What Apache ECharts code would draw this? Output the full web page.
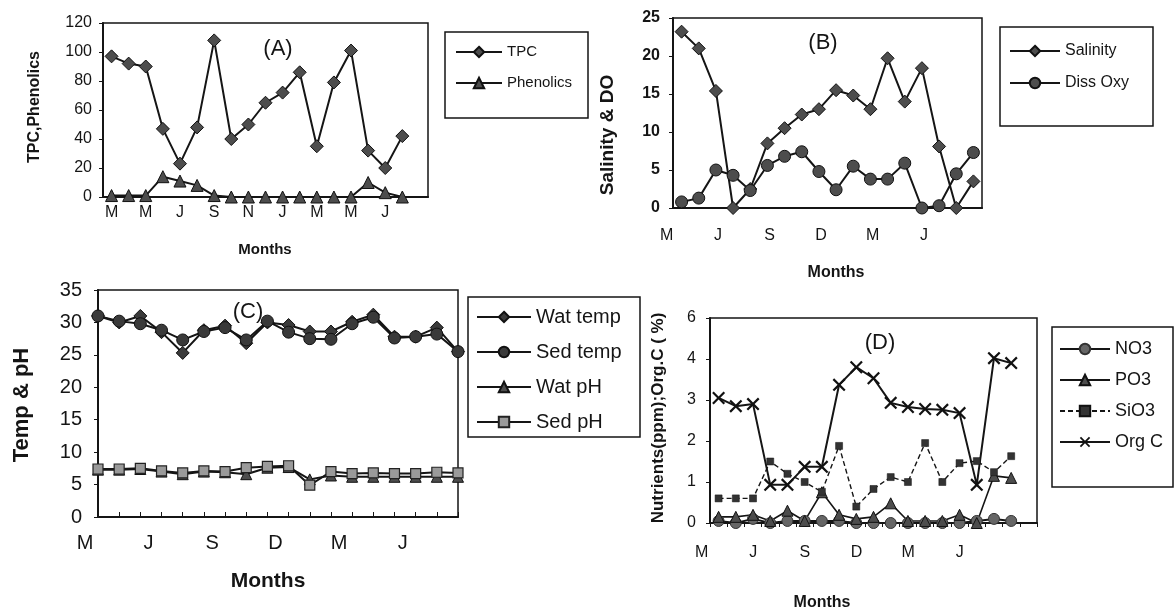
<!DOCTYPE html>
<html><head><meta charset="utf-8">
<script src="https://cdn.jsdelivr.net/npm/echarts/dist/echarts.min.js"></script>
<style>html,body{margin:0;padding:0;background:#fff}#c{width:1175px;height:612px}</style>
</head><body><div id="c"></div>
<script>
// ---------- DATA ----------
const monthsA = ['Mar','Apr','May','Jun','Jul','Aug','Sep','Oct','Nov','Dec','Jan','Feb','Mar','Apr','May','Jun','Jul','Aug',''];
const monthsB = ['Mar','Apr','May','Jun','Jul','Aug','Sep','Oct','Nov','Dec','Jan','Feb','Mar','Apr','May','Jun','Jul','Aug'];
const monthsC = ['Mar','Apr','May','Jun','Jul','Aug','Sep','Oct','Nov','Dec','Jan','Feb','Mar','Apr','May','Jun','Jul','Aug'];
const monthsD = ['Mar','Apr','May','Jun','Jul','Aug','Sep','Oct','Nov','Dec','Jan','Feb','Mar','Apr','May','Jun','Jul','Aug',''];

const tpc       = [97, 92, 90, 47, 23, 48, 108, 40, 50, 65, 72, 86, 35, 79, 101, 32, 20, 42];
const phenolics = [1, 1, 1, 14, 11, 8, 1, 0, 0, 0, 0, 0, 0, 0, 0, 10, 3, 0];

const salinity = [23.2, 21, 15.4, 0, 2.5, 8.5, 10.5, 12.3, 13, 15.5, 14.8, 13, 19.7, 14, 18.4, 8.1, 0, 3.5];
const dissOxy  = [0.8, 1.3, 5, 4.3, 2.3, 5.6, 6.8, 7.4, 4.8, 2.4, 5.5, 3.8, 3.8, 5.9, 0, 0.3, 4.5, 7.3];

const watTemp = [31, 30, 31, 28.5, 25.3, 28.8, 29.5, 26.8, 30, 29.6, 28.6, 28.6, 30.1, 31.2, 27.8, 27.8, 29.2, 25.5];
const sedTemp = [31, 30.2, 29.8, 28.8, 27.3, 28.6, 29.2, 27.3, 30.2, 28.5, 27.5, 27.4, 29.8, 30.8, 27.6, 27.8, 28.2, 25.5];
const watPH   = [7.3, 7.3, 7.4, 7.0, 6.6, 7.0, 6.9, 6.6, 7.6, 7.7, 5.8, 6.4, 6.2, 6.2, 6.2, 6.2, 6.2, 6.2];
const sedPH   = [7.4, 7.4, 7.5, 7.1, 6.8, 7.1, 7.0, 7.6, 7.8, 7.9, 4.9, 7.0, 6.7, 6.8, 6.7, 6.7, 6.9, 6.8];

const no3  = [0.05, 0, 0.1, 0, 0.05, 0.05, 0.05, 0.05, 0, 0, 0, 0, 0, 0, 0, 0.05, 0.1, 0.05];
const po3  = [0.15, 0.15, 0.2, 0.05, 0.3, 0.05, 0.75, 0.2, 0.1, 0.15, 0.48, 0.05, 0.05, 0.05, 0.2, 0, 1.15, 1.1];
const sio3 = [0.6, 0.6, 0.6, 1.5, 1.2, 1.0, 0.76, 1.88, 0.4, 0.83, 1.12, 1.0, 1.95, 1.0, 1.46, 1.51, 1.24, 1.63];
const orgC = [3.05, 2.85, 2.9, 0.93, 0.93, 1.37, 1.37, 3.37, 3.8, 3.53, 2.93, 2.83, 2.78, 2.76, 2.68, 0.93, 4.02, 3.9];

const dYTickLabels = {0:'0', 1:'1', 2:'2', 3:'3', 4:'4', 5:'6'};

// ---------- STYLE ----------
const F = '"Liberation Sans", Arial, sans-serif';
const INK = '#151515';
const MARK = '#4d4d4d';
const XSYM = 'path://M0,1.2L1.2,0L5,3.8L8.8,0L10,1.2L6.2,5L10,8.8L8.8,10L5,6.2L1.2,10L0,8.8L3.8,5Z';

function line(name, data, idx, symbol, size, extra) {
  const s = {
    name, type: 'line', data, xAxisIndex: idx, yAxisIndex: idx,
    symbol, symbolSize: size, showAllSymbol: true, animation: false,
    lineStyle: { color: INK, width: 2 },
    itemStyle: { color: MARK, borderColor: '#111', borderWidth: 1 },
    z: 3
  };
  return Object.assign(s, extra || {});
}

function xAxis(idx, cats, interval, gap, fs, margin, pad, tick) {
  return {
    type: 'category', gridIndex: idx, data: cats, boundaryGap: gap,
    axisLine: { lineStyle: { color: INK, width: 2 } },
    axisTick: tick || { show: false },
    axisLabel: { interval, color: INK, fontSize: fs, fontFamily: F, margin,
      padding: pad, formatter: v => v ? v.charAt(0) : '' },
    splitLine: { show: false }
  };
}
function yAxis(idx, max, interval, fs, margin, bold, fmt) {
  return {
    type: 'value', gridIndex: idx, min: 0, max, interval,
    axisLine: { show: true, lineStyle: { color: INK, width: 2 } },
    axisTick: { show: true, length: 4, lineStyle: { color: INK } },
    axisLabel: { color: INK, fontSize: fs, fontFamily: F, margin, fontWeight: bold ? 'bold' : 'normal', formatter: fmt },
    splitLine: { show: false }
  };
}
function txt(x, y, text, size, bold, rot) {
  return { type: 'text', x, y, rotation: rot ? Math.PI / 2 : 0, z: 10,
    style: { text, fill: INK, font: (bold ? 'bold ' : '') + size + 'px ' + F,
      align: 'center', verticalAlign: 'middle', textAlign: 'center', textVerticalAlign: 'middle' } };
}
function box(x, y, w, h) {
  return { type: 'rect', shape: { x, y, width: w, height: h }, z: 1,
    style: { fill: 'none', stroke: INK, lineWidth: 1.5 } };
}
function leg(names, left, top, iw, fs, lh, gap, bold) {
  return { data: names, orient: 'vertical', left, top, itemWidth: iw, itemHeight: 13, itemGap: gap,
    textStyle: { color: INK, fontSize: fs, lineHeight: lh, fontFamily: F, fontWeight: bold ? 'bold' : 'normal' } };
}

const chart = echarts.init(document.getElementById('c'), null, { renderer: 'canvas' });
chart.setOption({
  backgroundColor: '#fff',
  animation: false,
  grid: [
    { left: 103, top: 23, width: 325, height: 174, show: true, borderColor: INK, borderWidth: 1.5 },
    { left: 673, top: 18, width: 309, height: 190, show: true, borderColor: INK, borderWidth: 1.5 },
    { left: 98, top: 290, width: 360, height: 227, show: true, borderColor: INK, borderWidth: 1.5 },
    { left: 710, top: 318, width: 327, height: 205, show: true, borderColor: INK, borderWidth: 1.5 }
  ],
  xAxis: [
    xAxis(0, monthsA, 1, true, 16, 8, [0, 0, 0, 0]),
    xAxis(1, monthsB, 2, true, 16, 20, [0, 30, 0, 0]),
    xAxis(2, monthsC, 2, false, 20, 16, [0, 26, 0, 0], { show: true, inside: true, length: 5, interval: 0, lineStyle: { color: INK } }),
    xAxis(3, monthsD, 2, true, 16, 22, [0, 34, 0, 0], { show: true, inside: false, length: 4, interval: 0, lineStyle: { color: INK } })
  ],
  yAxis: [
    yAxis(0, 120, 20, 16, 11),
    yAxis(1, 25, 5, 16, 13, true),
    yAxis(2, 35, 5, 20, 16),
    yAxis(3, 5, 1, 16, 14, false, v => dYTickLabels[v])
  ],
  legend: [
    leg(['TPC', 'Phenolics'], 450, 38, 46, 15, 18, 13),
    leg(['Salinity', 'Diss Oxy'], 1004, 37, 50, 16, 18, 14),
    leg(['Wat temp', 'Sed temp', 'Wat pH', 'Sed pH'], 471, 301, 54, 20, 22, 13),
    leg(['NO3', 'PO3', 'SiO3', 'Org C'], 1054, 334, 50, 18, 20, 11)
  ],
  series: [
    line('TPC', tpc, 0, 'diamond', 13),
    line('Phenolics', phenolics, 0, 'triangle', 12),
    line('Salinity', salinity, 1, 'diamond', 13),
    line('Diss Oxy', dissOxy, 1, 'circle', 12),
    line('Wat temp', watTemp, 2, 'diamond', 13, { itemStyle: { color: '#3a3a3a', borderColor: '#111', borderWidth: 1 } }),
    line('Sed temp', sedTemp, 2, 'circle', 12, { itemStyle: { color: '#3a3a3a', borderColor: '#111', borderWidth: 1 } }),
    line('Wat pH', watPH, 2, 'triangle', 11),
    line('Sed pH', sedPH, 2, 'rect', 10, { itemStyle: { color: '#9a9a9a', borderColor: '#222', borderWidth: 1.2 } }),
    line('NO3', no3, 3, 'circle', 11, { itemStyle: { color: '#666', borderColor: '#333', borderWidth: 1 } }),
    line('PO3', po3, 3, 'triangle', 11, { lineStyle: { color: INK, width: 1.6 } }),
    line('SiO3', sio3, 3, 'rect', 7, { lineStyle: { color: INK, width: 1.4, type: [5, 3] }, itemStyle: { color: '#333', borderColor: '#111', borderWidth: 0.5 } }),
    line('Org C', orgC, 3, XSYM, 13, { itemStyle: { color: '#111', borderWidth: 0 }, lineStyle: { color: INK, width: 2 } })
  ],
  graphic: [
    box(445, 32, 143, 86),
    box(1000, 27, 153, 99),
    box(468, 297, 172, 140),
    box(1052, 327, 121, 160),
    txt(278, 49, '(A)', 22),
    txt(823, 43, '(B)', 22),
    txt(248, 312, '(C)', 22),
    txt(880, 343, '(D)', 22),
    txt(265, 250, 'Months', 15, true),
    txt(836, 273, 'Months', 16, true),
    txt(268, 581, 'Months', 21, true),
    txt(822, 603, 'Months', 16, true),
    txt(35, 107, 'TPC,Phenolics', 16, true, true),
    txt(608, 135, 'Salinity & DO', 19, true, true),
    txt(22, 405, 'Temp & pH', 22, true, true),
    txt(658, 418, 'Nutrients(ppm);Org.C ( %)', 17, true, true)
  ]
});
</script>
</body></html>
